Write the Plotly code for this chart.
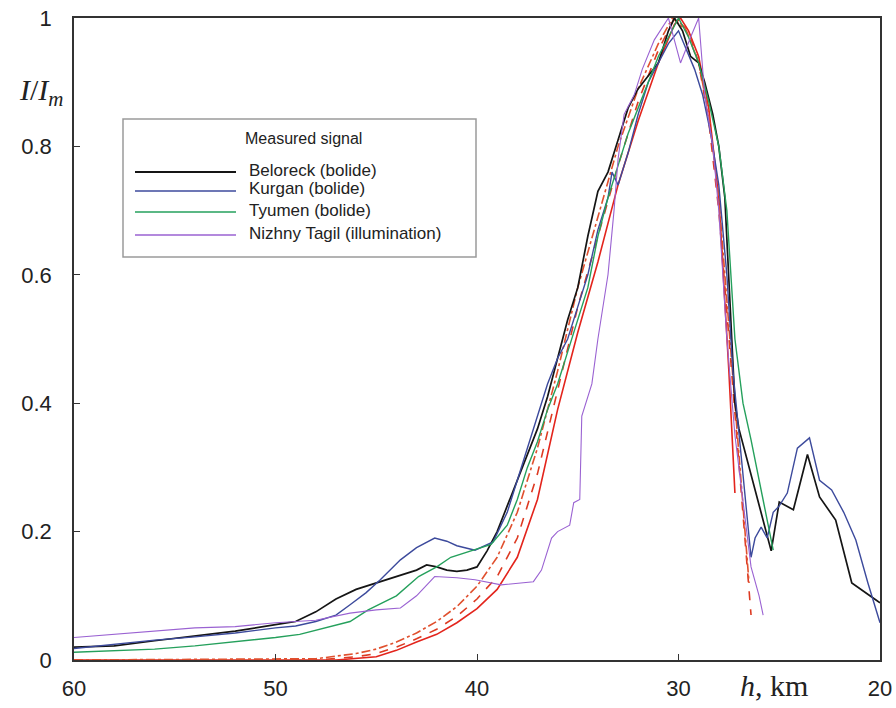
import plotly.graph_objects as go

# ---------------- data ----------------
beloreck_h = [60, 58, 56, 54, 52, 50, 49, 48, 47, 46, 45, 44, 43, 42.5, 42, 41.5, 41, 40.5, 40,
              39.5, 39, 38.5, 38, 37.5, 37, 36.5, 36, 35.5, 35, 34.5, 34, 33.5, 33, 32.5, 32,
              31.5, 31, 30.5, 30.2, 29.8, 29.4, 29, 28.7, 28.3, 28, 27.7, 27.5, 27.2, 27.0,
              26.5, 26.0, 25.4, 25.0, 24.3, 23.6, 23.0, 22.2, 21.4, 20.5, 20]
beloreck_i = [0.02, 0.022, 0.03, 0.038, 0.045, 0.055, 0.06, 0.075, 0.095, 0.11, 0.12, 0.13, 0.14,
              0.148, 0.145, 0.14, 0.138, 0.14, 0.145, 0.17, 0.2, 0.24, 0.28, 0.32, 0.36, 0.41,
              0.47, 0.53, 0.58, 0.66, 0.73, 0.76, 0.81, 0.86, 0.89, 0.91, 0.93, 0.98, 1.0, 0.98,
              0.94, 0.93, 0.9, 0.85, 0.8, 0.72, 0.6, 0.4, 0.36, 0.3, 0.24, 0.17, 0.246, 0.234,
              0.32, 0.254, 0.218, 0.12, 0.1, 0.089]

kurgan_h = [60, 58, 56, 54, 52, 50, 49, 48, 47, 46.3, 45.5, 44.8, 43.8, 43, 42.1, 41.5, 41, 40.1,
            39.2, 38.5, 38, 37.5, 37, 36.5, 36, 35.5, 35, 34.5, 34, 33.5, 33.3, 33.0, 32.5, 32,
            31.5, 31, 30.5, 30.0, 29.6, 29.2, 28.8, 28.4, 28, 27.6, 27.3, 27, 26.7, 26.4, 26.2,
            25.9, 25.6, 25.3, 25.0, 24.6, 24.1, 23.5, 23.0, 22.4, 21.8, 21.2, 20.6, 20]
kurgan_i = [0.018, 0.025, 0.031, 0.036, 0.042, 0.05, 0.053, 0.06, 0.07, 0.086, 0.105, 0.125, 0.156,
            0.175, 0.19, 0.185, 0.178, 0.171, 0.184, 0.23, 0.28, 0.33, 0.38, 0.43, 0.47, 0.5,
            0.55, 0.6, 0.67, 0.72, 0.76, 0.74, 0.79, 0.85, 0.9, 0.93, 0.96, 0.98, 0.95, 0.92,
            0.88, 0.82, 0.74, 0.6, 0.45, 0.35, 0.25, 0.16, 0.19, 0.207, 0.19, 0.23, 0.24, 0.26,
            0.33, 0.346, 0.28, 0.265, 0.23, 0.187, 0.12, 0.058]

tyumen_h = [60, 58, 56, 54, 52, 50, 48.8, 47.5, 46.3, 45.4, 44, 42.9, 42, 41.3, 40.3, 39.3, 38.5,
            38, 37.5, 37, 36.5, 36, 35.5, 35, 34.5, 34, 33.5, 33, 32.5, 32, 31.5, 31, 30.5, 30,
            29.5, 29, 28.5, 28, 27.6, 27.2, 26.8, 26.4, 25.3]
tyumen_i = [0.012, 0.014, 0.017, 0.022, 0.028, 0.035, 0.04, 0.05, 0.06, 0.078, 0.1, 0.13, 0.145,
            0.16, 0.17, 0.18, 0.21, 0.25, 0.3, 0.34, 0.39, 0.43, 0.48, 0.53, 0.58, 0.66, 0.72,
            0.77, 0.82, 0.86, 0.9, 0.94, 0.97, 1.0, 0.97, 0.93, 0.87, 0.8, 0.7, 0.5, 0.4, 0.343,
            0.171]

tagil_h = [60, 58, 56, 54, 52, 50, 48, 46.3, 45, 43.8, 43, 42.1, 41, 40.1, 38.8, 37.2, 36.8, 36.3,
           36.0, 35.4, 35.2, 34.9, 34.8, 34.3, 34, 33.5, 33.2, 33, 32.7, 32.2, 31.8, 31.2, 30.5,
           29.9, 29.4, 29.0, 28.7, 28.3, 28.0, 27.6, 27.2, 26.8, 26.4, 26.0, 25.8]
tagil_i = [0.035, 0.04, 0.045, 0.05, 0.052, 0.058, 0.062, 0.073, 0.078, 0.081, 0.1, 0.13, 0.128,
           0.125, 0.117, 0.122, 0.14, 0.19, 0.2, 0.21, 0.245, 0.25, 0.38, 0.43, 0.5, 0.6, 0.7,
           0.78, 0.85, 0.88, 0.92, 0.966, 1.0, 0.93, 0.97, 1.0, 0.88, 0.8, 0.7, 0.5, 0.35, 0.25,
           0.145, 0.1, 0.07]

# model curves (red)
model1_h = [60, 47, 45, 44, 43, 42, 41, 40, 39, 38, 37, 36, 35, 34, 33, 32, 31, 30.2, 29.9, 29.5,
            29, 28.5, 28, 27.5, 27.2]
model1_i = [0, 0.0, 0.005, 0.015, 0.028, 0.04, 0.058, 0.08, 0.11, 0.16, 0.25, 0.39, 0.51, 0.62,
            0.74, 0.84, 0.93, 0.99, 1.0, 0.98, 0.94, 0.86, 0.72, 0.45, 0.26]
model2_h = [60, 48, 46, 45, 44, 43, 42, 41, 40, 39, 38, 37, 36, 35, 34, 33, 32, 31, 30.2, 29.5, 29,
            28.5, 28, 27.5, 27, 26.6, 26.4]
model2_i = [0, 0.0, 0.005, 0.01, 0.02, 0.033, 0.048, 0.068, 0.095, 0.13, 0.19, 0.29, 0.42, 0.55,
            0.66, 0.77, 0.87, 0.95, 1.0, 0.98, 0.93, 0.84, 0.7, 0.5, 0.3, 0.15, 0.07]
model3_h = [60, 48, 46, 45, 44, 43, 42, 41, 40, 39, 38, 37, 36, 35, 34, 33, 32, 31, 30.3, 29.6, 29,
            28.5, 28, 27.5, 27, 26.7, 26.5]
model3_i = [0, 0.002, 0.01, 0.017, 0.028, 0.042, 0.06, 0.083, 0.115, 0.16, 0.23, 0.33, 0.45, 0.58,
            0.69, 0.8, 0.89, 0.96, 1.0, 0.98, 0.93, 0.85, 0.72, 0.52, 0.33, 0.2, 0.12]

series_names = ["Beloreck (bolide)", "Kurgan (bolide)", "Tyumen (bolide)",
                "Nizhny Tagil (illumination)"]
series_colors = ["#151515", "#3c4a9c", "#25a05c", "#9a62d2"]
series_widths = [1.7, 1.4, 1.4, 1.1]

x_ticks = [60, 50, 40, 30, 20]
y_ticks = [0, 0.2, 0.4, 0.6, 0.8, 1]
y_tick_labels = ["0", "0.2", "0.4", "0.6", "0.8", "1"]

# ---------------- figure ----------------
fig = go.Figure()

models = [(model1_h, model1_i, "solid", "#e3241c"),
          (model2_h, model2_i, "dash", "#dd3a22"),
          (model3_h, model3_i, "dashdot", "#e0502e")]
for mh, mi, dash, col in models:
    fig.add_trace(go.Scatter(x=mh, y=mi, mode="lines", showlegend=False,
                             line=dict(color=col, width=1.6, dash=dash)))

measured = [(beloreck_h, beloreck_i), (kurgan_h, kurgan_i), (tyumen_h, tyumen_i), (tagil_h, tagil_i)]
for (h, i), name, col, w in zip(measured, series_names, series_colors, series_widths):
    fig.add_trace(go.Scatter(x=h, y=i, mode="lines", name=name, showlegend=False,
                             line=dict(color=col, width=w)))

# ---- manual legend (paper coords) ----
W, H = 896, 708
L, R, T, B = 74, 16, 18, 48
pw, ph = W - L - R, H - T - B


def px(x):
    return (x - L) / pw


def py(y):
    return (H - B - y) / ph


shapes = [dict(type="rect", xref="paper", yref="paper", x0=px(123), x1=px(476), y0=py(257), y1=py(119),
               line=dict(color="#9a9a9a", width=1.5), fillcolor="white", layer="above")]
annotations = [dict(text="Measured signal", xref="paper", yref="paper", x=px(303), y=py(138),
                    showarrow=False, xanchor="center", yanchor="middle",
                    font=dict(family="Liberation Sans, Arial", size=16, color="#222"))]
rows = [172, 191, 212, 235]
for name, col, w, yy in zip(series_names, series_colors, series_widths, rows):
    shapes.append(dict(type="line", xref="paper", yref="paper", x0=px(135), x1=px(236),
                       y0=py(yy), y1=py(yy), line=dict(color=col, width=w + 0.3), layer="above"))
    annotations.append(dict(text=name, xref="paper", yref="paper", x=px(247), y=py(yy - 2),
                            showarrow=False, xanchor="left", yanchor="middle",
                            font=dict(family="Liberation Sans, Arial", size=17, color="#222")))

annotations.append(dict(text="<i>h</i>, km", xref="paper", yref="paper", x=px(774), y=py(686),
                        showarrow=False, xanchor="center", yanchor="middle",
                        font=dict(family="Liberation Serif, Times New Roman", size=30, color="#222")))
annotations.append(dict(text="<i>I</i>/<i>I</i><sub><i>m</i></sub>", xref="paper", yref="paper",
                        x=px(41), y=py(92), showarrow=False, xanchor="center", yanchor="middle",
                        font=dict(family="Liberation Serif, Times New Roman", size=30, color="#222")))

axis_common = dict(showgrid=False, zeroline=False, showline=True, linecolor="#333", linewidth=1.6,
                   mirror=True, ticks="inside", ticklen=6, tickcolor="#333", tickwidth=1.3,
                   automargin=False,
                   tickfont=dict(family="Liberation Sans, Arial", size=22, color="#222"))

fig.update_layout(
    width=W, height=H,
    margin=dict(l=L, r=R, t=T, b=B),
    paper_bgcolor="white", plot_bgcolor="white",
    shapes=shapes, annotations=annotations,
    xaxis=dict(range=[60, 20], tickvals=x_ticks, ticktext=[str(v) for v in x_ticks],
               ticklabelstandoff=8, **axis_common),
    yaxis=dict(range=[0, 1], tickvals=y_ticks, ticktext=y_tick_labels,
               ticklabelstandoff=16, **axis_common),
)

fig.write_html("out.html", config={"displayModeBar": False},
               post_script="document.body.style.margin='0';document.body.style.padding='0';")
